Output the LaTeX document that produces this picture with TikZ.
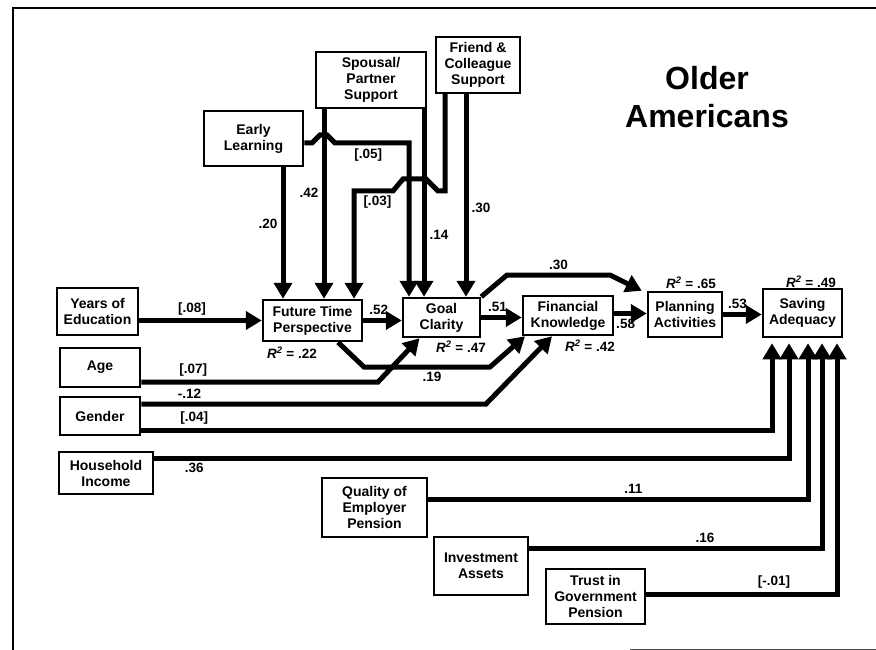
\documentclass[tikz,border=0pt]{standalone}
\usepackage{fontspec}
\setmainfont{Liberation Sans}
\usetikzlibrary{arrows.meta}

\begin{document}
\begin{tikzpicture}[x=1pt, y=-1pt, >={Triangle[length=16pt, width=18pt]},
  font=\fontsize{13.5}{15.5}\selectfont\bfseries,
  box/.style={draw, line width=2.5pt, align=center, inner sep=0pt, font=\fontsize{14}{16}\selectfont\bfseries},
  link/.style={->, line width=5pt},
  low/.style={shorten >=5pt},
  lbl/.style={inner sep=1pt}]
  \useasboundingbox (0,0) rectangle (876,650);
  % frame of the scan
  \draw[line width=1.2pt] (13,650) -- (13,8) -- (876,8);
  \draw[line width=1pt, black!70] (630,649) -- (876,649);
  % title
  \node[font=\fontsize{32}{38}\selectfont\bfseries, align=center] (title) at (707,97) {Older\\Americans};
  % boxes, top row
  \node[box, minimum width=99pt, minimum height=55pt] (early) at (253.5,138.5) {Early\\Learning};
  \node[box, minimum width=110pt, minimum height=56pt] (spouse) at (371,80) {Spousal/\\Partner\\Support};
  \node[box, minimum width=84pt, minimum height=56pt] (friend) at (478,65) {Friend \&\\Colleague\\Support};
  % boxes, middle row
  \node[box, minimum width=81pt, minimum height=47pt] (years) at (97.5,311.5) {Years of\\Education};
  \node[box, minimum width=99pt, minimum height=41pt] (ftp) at (312.5,320.5) {Future Time\\Perspective};
  \node[box, minimum width=77pt, minimum height=39pt] (goal) at (441.5,317.5) {Goal\\Clarity};
  \node[box, minimum width=90pt, minimum height=39pt] (fin) at (568,315.5) {Financial\\Knowledge};
  \node[box, minimum width=74pt, minimum height=45pt] (plan) at (685,314.5) {Planning\\Activities};
  \node[box, minimum width=79pt, minimum height=48pt] (save) at (802.5,313) {Saving\\Adequacy};
  % boxes, left and bottom
  \node[box, minimum width=80pt, minimum height=39pt] (age) at (100,367.5) {Age};
  \node[box, minimum width=80pt, minimum height=38pt] (gender) at (100,416) {Gender};
  \node[box, minimum width=94pt, minimum height=42pt] (income) at (106,473) {Household\\Income};
  \node[box, minimum width=105pt, minimum height=59pt] (quality) at (374.5,507.5) {Quality of\\Employer\\Pension};
  \node[box, minimum width=94pt, minimum height=58pt] (invest) at (481,566) {Investment\\Assets};
  \node[box, minimum width=99pt, minimum height=55pt] (trust) at (595.5,596.5) {Trust in\\Government\\Pension};
  % explained variance
  \node[lbl] (r22) at (292,353) {\itshape R\textsuperscript{2}\upshape\ = .22};
  \node[lbl] (r47) at (461,347) {\itshape R\textsuperscript{2}\upshape\ = .47};
  \node[lbl] (r42) at (590,346) {\itshape R\textsuperscript{2}\upshape\ = .42};
  \node[lbl] (r65) at (691,283) {\itshape R\textsuperscript{2}\upshape\ = .65};
  \node[lbl] (r49) at (811,282) {\itshape R\textsuperscript{2}\upshape\ = .49};
  % paths from above
  \draw[link] ([xshift=29.5pt]early.south) -- node[lbl, left, pos=.43, xshift=-2pt]{.20} ([xshift=-29.5pt]ftp.north);
  \draw[link] ([xshift=-47pt]spouse.south) -- node[lbl, left, pos=.44, xshift=-2pt]{.42} ([xshift=11.5pt]ftp.north);
  \draw[link] ([xshift=53pt]spouse.south) -- node[lbl, right, pos=.67, xshift=2pt]{.14} ([xshift=-17.5pt]goal.north);
  \draw[link] ([xshift=-12pt]friend.south) -- node[lbl, right, pos=.56, xshift=2pt]{.30} ([xshift=24.5pt]goal.north);
  % [.05] hops over the .42 line
  \draw[link] ([yshift=-4.5pt]early.east) -- (312,143) -- (320,135) -- (327,135) -- (335,143)
    -- node[lbl, below, pos=.45, yshift=-2pt]{[.05]} (409,143) -- ([xshift=-32.5pt]goal.north);
  % [.03] hops over the .14 and [.05] lines
  \draw[link] ([xshift=-33pt]friend.south) -- (445,191) -- (438,191) -- (426,179) -- (403,179) -- (393,191)
    -- (354,191) -- node[lbl, right, pos=.1, xshift=6pt]{[.03]} ([xshift=41.5pt]ftp.north);
  % main chain
  \draw[link] ([yshift=-9pt]years.east) -- node[lbl, above, pos=.43, yshift=2pt]{[.08]} (ftp.west);
  \draw[link] (ftp.east) -- node[lbl, above, pos=.4, yshift=2pt]{.52} (ftp.east -| goal.west);
  \draw[link] (goal.east) -- node[lbl, above, pos=.4, yshift=2pt]{.51} (goal.east -| fin.west);
  \draw[link] ([yshift=2pt]fin.east) -- node[lbl, below, pos=.35, yshift=-2pt]{.58} ([yshift=2pt]fin.east -| plan.west);
  \draw[link] (plan.east) -- node[lbl, above, pos=.37, yshift=2pt]{.53} (plan.east -| save.west);
  \draw[link] (goal.north east) -- (507,275) -- node[lbl, above, yshift=2pt]{.30} (610,275) -- ([xshift=-5pt]plan.north west);
  \draw[link] ([xshift=25.5pt]ftp.south) -- (364,367) -- node[lbl, below, pos=.54, yshift=-2pt]{.19} (490,367) -- ([xshift=-43pt]fin.south);
  % left predictors
  \draw[link] ([yshift=-14.5pt]age.east) -- node[lbl, above, pos=.22, yshift=2pt]{[.07]} (378,382) -- ([xshift=-22pt]goal.south);
  \draw[link] ([yshift=12pt]gender.east) -- node[lbl, above, pos=.14, yshift=2pt]{-.12} (486,404) -- ([xshift=-16pt]fin.south);
  \draw[link, low] ([yshift=-14pt]gender.east) -- node[lbl, above, pos=.084, yshift=2pt]{[.04]} (772,430) -- ([xshift=-30.5pt]save.south);
  \draw[link, low] ([yshift=15pt]income.east) -- node[lbl, below, pos=.063, yshift=-2pt]{.36} (789,458) -- ([xshift=-13.5pt]save.south);
  % bottom predictors
  \draw[link, low] ([yshift=8.5pt]quality.east) -- node[lbl, above, pos=.54, yshift=2pt]{.11} (808,499) -- ([xshift=5.5pt]save.south);
  \draw[link, low] ([yshift=18pt]invest.east) -- node[lbl, above, pos=.6, yshift=2pt]{.16} (822,548) -- ([xshift=19.5pt]save.south);
  \draw[link, low] ([yshift=2.5pt]trust.east) -- node[lbl, above, pos=.67, yshift=2pt]{[-.01]} (837,594) -- ([xshift=34.5pt]save.south);
\end{tikzpicture}
\end{document}
